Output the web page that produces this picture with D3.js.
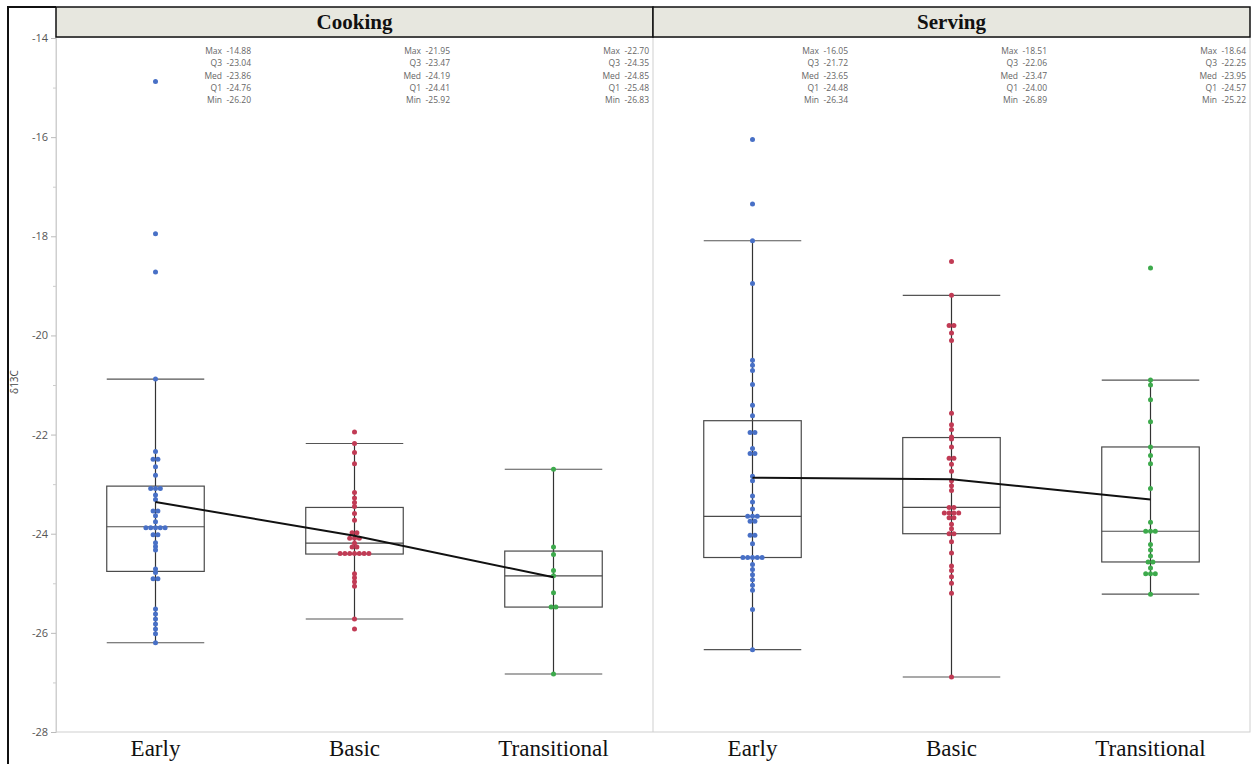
<!DOCTYPE html>
<html>
<head>
<meta charset="utf-8">
<script src="https://cdn.jsdelivr.net/npm/d3@7"></script>
<style>
  html, body { margin: 0; padding: 0; background: #fff; }
  svg { display: block; }
</style>
</head>
<body>
<svg id="chart" width="1253" height="764"></svg>
<script>
// ---- data ----
const panels = ["Cooking", "Serving"];
const periods = ["Early", "Basic", "Transitional"];
const yTicks = [-14, -16, -18, -20, -22, -24, -26, -28];
const yMinorTicks = [-15, -17, -19, -21, -23, -25, -27];

// quantile summaries (Early, Basic, Transitional)
const cookingMax = [-14.88, -21.95, -22.70];
const cookingQ3  = [-23.04, -23.47, -24.35];
const cookingMed = [-23.86, -24.19, -24.85];
const cookingQ1  = [-24.76, -24.41, -25.48];
const cookingMin = [-26.20, -25.92, -26.83];
const servingMax = [-16.05, -18.51, -18.64];
const servingQ3  = [-21.72, -22.06, -22.25];
const servingMed = [-23.65, -23.47, -23.95];
const servingQ1  = [-24.48, -24.00, -24.57];
const servingMin = [-26.34, -26.89, -25.22];

// whisker ends (outlier box plot)
const cookingWhiskerHi = [-20.88, -22.18, -22.70];
const cookingWhiskerLo = [-26.20, -25.72, -26.83];
const servingWhiskerHi = [-18.09, -19.19, -20.90];
const servingWhiskerLo = [-26.34, -26.89, -25.22];

// group means (connected line)
const cookingMean = [-23.36, -24.04, -24.88];
const servingMean = [-22.87, -22.90, -23.31];

// individual δ13C values
const cookingEarly = [-14.88, -17.95, -18.72, -20.88, -22.34, -22.50, -22.50, -22.65, -22.82,
  -23.09, -23.09, -23.09, -23.22, -23.31, -23.54, -23.54, -23.64, -23.76,
  -23.88, -23.88, -23.88, -23.88, -23.88, -24.02, -24.02, -24.18, -24.26, -24.33,
  -24.71, -24.78, -24.91, -24.91, -25.52, -25.62, -25.72, -25.82, -25.92, -26.02, -26.20];
const cookingBasic = [-21.95, -22.18, -22.36, -22.59, -23.17, -23.28, -23.37, -23.45, -23.59, -23.73,
  -23.98, -23.98, -24.09, -24.09, -24.09, -24.19, -24.27, -24.27,
  -24.40, -24.40, -24.40, -24.40, -24.40, -24.40, -24.40,
  -24.81, -24.89, -24.97, -25.06, -25.72, -25.92];
const cookingTransitional = [-22.70, -24.27, -24.42, -24.74, -24.85, -25.19, -25.48, -25.48, -26.83];
const servingEarly = [-16.05, -17.35, -18.09, -18.95, -20.50, -20.60, -20.71, -20.99, -21.41, -21.62,
  -21.96, -21.96, -22.28, -22.38, -22.38, -22.84, -22.93, -23.24, -23.36, -23.50,
  -23.65, -23.65, -23.65, -23.75, -23.75, -24.03, -24.03, -24.20,
  -24.48, -24.48, -24.48, -24.48, -24.48, -24.62, -24.72, -24.83, -24.93, -25.04, -25.14, -25.53, -26.34];
const servingBasic = [-18.51, -19.19, -19.80, -19.80, -19.95, -20.10, -21.57, -21.80, -21.90, -22.05,
  -22.09, -22.25, -22.48, -22.48, -22.60, -22.74, -22.93, -23.03, -23.13, -23.47, -23.47,
  -23.58, -23.58, -23.58, -23.58, -23.68, -23.68, -23.81, -23.90, -24.00, -24.00,
  -24.16, -24.39, -24.65, -24.74, -24.87, -25.00, -25.20, -26.89];
const servingTransitional = [-18.64, -20.90, -21.00, -21.30, -21.74, -22.25, -22.42, -22.59, -23.09, -23.77,
  -23.95, -23.95, -23.95, -24.22, -24.33, -24.45, -24.57, -24.57, -24.69,
  -24.81, -24.81, -24.81, -25.22];

const periodColors = ["#4870c6", "#c13b55", "#3daa4c"];

// ---- assemble per-panel groups ----
const groups = [
  { panel: "Cooking", stats: [cookingMax, cookingQ3, cookingMed, cookingQ1, cookingMin],
    hi: cookingWhiskerHi, lo: cookingWhiskerLo, mean: cookingMean,
    points: [cookingEarly, cookingBasic, cookingTransitional] },
  { panel: "Serving", stats: [servingMax, servingQ3, servingMed, servingQ1, servingMin],
    hi: servingWhiskerHi, lo: servingWhiskerLo, mean: servingMean,
    points: [servingEarly, servingBasic, servingTransitional] }
];

// plain hyphen as the minus sign
const locale = d3.formatLocale({ decimal: ".", thousands: ",", grouping: [3], currency: ["", ""], minus: "-" });
const fmtInt = locale.format("d");
const fmt = locale.format(".2f");

// ---- layout ----
const svg = d3.select("#chart");
const frameL = 8, frameT = 7;
const plotL = 56, plotR = 1250, headTop = 7, plotTop = 37, plotBottom = 732;

const y = d3.scaleLinear().domain([-28, -14]).range([732, 38]);
const xPanel = d3.scaleBand().domain(panels).range([plotL, plotR]);
const xCat = d3.scaleBand().domain(periods).range([0, xPanel.bandwidth()]);
const boxHalf = xCat.bandwidth() * 0.245;

const serif = "'Liberation Serif', 'Times New Roman', serif";
const sans = "'Open Sans', 'Noto Sans', sans-serif";

// outer frame
svg.append("path")
  .attr("d", `M${frameL},764 V${frameT} H${plotL}`)
  .attr("fill", "none").attr("stroke", "#111").attr("stroke-width", 2);

// panel frames
svg.append("rect")
  .attr("x", plotL).attr("y", plotTop)
  .attr("width", plotR - plotL).attr("height", plotBottom - plotTop)
  .attr("fill", "none").attr("stroke", "#cfcfcf").attr("stroke-width", 1);
svg.append("line")
  .attr("x1", xPanel("Serving")).attr("x2", xPanel("Serving"))
  .attr("y1", plotTop).attr("y2", plotBottom)
  .attr("stroke", "#cfcfcf");

// header strip
const head = svg.append("g");
panels.forEach(p => {
  head.append("rect")
    .attr("x", xPanel(p)).attr("y", headTop)
    .attr("width", xPanel.bandwidth()).attr("height", plotTop - headTop)
    .attr("fill", "#e7e7df").attr("stroke", "#111").attr("stroke-width", 1.5);
  head.append("text")
    .attr("x", xPanel(p) + xPanel.bandwidth() / 2).attr("y", 29)
    .attr("text-anchor", "middle")
    .attr("font-family", serif).attr("font-weight", "bold").attr("font-size", 21)
    .attr("fill", "#111").text(p);
});

// y axis
const yAxis = d3.axisLeft(y).tickValues(yTicks).tickSize(5).tickPadding(3).tickFormat(fmtInt);
const gy = svg.append("g").attr("transform", `translate(${plotL},0)`).call(yAxis);
gy.select(".domain").attr("stroke", "#cfcfcf");
gy.selectAll(".tick line").attr("stroke", "#bbb");
gy.selectAll(".tick text").attr("font-family", sans).attr("font-size", 11).attr("fill", "#555");
const yMinor = d3.axisLeft(y).tickValues(yMinorTicks).tickSize(3).tickFormat("");
const gm = svg.append("g").attr("transform", `translate(${plotL},0)`).call(yMinor);
gm.select(".domain").remove();
gm.selectAll(".tick line").attr("stroke", "#ccc");

svg.append("text")
  .attr("transform", `translate(18,382) rotate(-90)`)
  .attr("text-anchor", "middle")
  .attr("font-family", sans).attr("font-size", 10).attr("fill", "#444")
  .text("δ13C");

// x labels
panels.forEach(p => {
  const gx = svg.append("g").attr("transform", `translate(${xPanel(p)},${plotBottom})`)
    .call(d3.axisBottom(xCat).tickSize(0).tickPadding(8));
  gx.select(".domain").remove();
  gx.selectAll(".tick text").attr("font-family", serif).attr("font-size", 23).attr("fill", "#111")
    .attr("dy", "0.68em");
});

// ---- boxes, points, means ----
const statLabels = ["Max", "Q3", "Med", "Q1", "Min"];

groups.forEach(g => {
  const px = xPanel(g.panel);
  const layer = svg.append("g").attr("transform", `translate(${px},0)`);
  const cx = i => xCat(periods[i]) + xCat.bandwidth() / 2;

  periods.forEach((per, i) => {
    const c = cx(i);
    const q3 = g.stats[1][i], med = g.stats[2][i], q1 = g.stats[3][i];
    const stroke = "#4a4a4a";

    // whisker stem
    layer.append("line")
      .attr("x1", c).attr("x2", c).attr("y1", y(g.hi[i])).attr("y2", y(g.lo[i]))
      .attr("stroke", "#333").attr("stroke-width", 1.2);
    // whisker caps
    [g.hi[i], g.lo[i]].forEach(v => {
      layer.append("line")
        .attr("x1", c - boxHalf).attr("x2", c + boxHalf)
        .attr("y1", y(v)).attr("y2", y(v))
        .attr("stroke", "#555").attr("stroke-width", 1.2);
    });
    // box
    layer.append("rect")
      .attr("x", c - boxHalf).attr("y", y(q3))
      .attr("width", boxHalf * 2).attr("height", y(q1) - y(q3))
      .attr("fill", "none").attr("stroke", stroke).attr("stroke-width", 1.2);
    layer.append("line")
      .attr("x1", c - boxHalf).attr("x2", c + boxHalf)
      .attr("y1", y(med)).attr("y2", y(med))
      .attr("stroke", stroke).attr("stroke-width", 1.2);

    // points, rows of equal values spread horizontally
    const vals = g.points[i];
    const counts = d3.rollup(vals, v => v.length, d => d);
    const seen = new Map();
    const pts = vals.map(v => {
      const n = counts.get(v);
      const k = seen.get(v) || 0;
      seen.set(v, k + 1);
      return { v, dx: (k - (n - 1) / 2) * 4.8 };
    });
    layer.append("g").selectAll("circle").data(pts).join("circle")
      .attr("cx", d => c + d.dx).attr("cy", d => y(d.v))
      .attr("r", 2.5).attr("fill", periodColors[i]);

    // quantile text block
    const tx = xCat(per) + xCat.bandwidth() - 4;
    statLabels.forEach((lab, j) => {
      const ty = 54 + j * 12.3;
      layer.append("text")
        .attr("x", tx).attr("y", ty).attr("text-anchor", "end")
        .attr("font-family", sans).attr("font-size", 8.5).attr("fill", "#666")
        .text(fmt(g.stats[j][i]));
      layer.append("text")
        .attr("x", tx - 29).attr("y", ty).attr("text-anchor", "end")
        .attr("font-family", sans).attr("font-size", 8.5).attr("fill", "#666")
        .text(lab);
    });
  });

  // mean line
  const line = d3.line().x((d, i) => cx(i)).y(d => y(d));
  layer.append("path").datum(g.mean)
    .attr("d", line).attr("fill", "none")
    .attr("stroke", "#111").attr("stroke-width", 2);
});
</script>
</body>
</html>
